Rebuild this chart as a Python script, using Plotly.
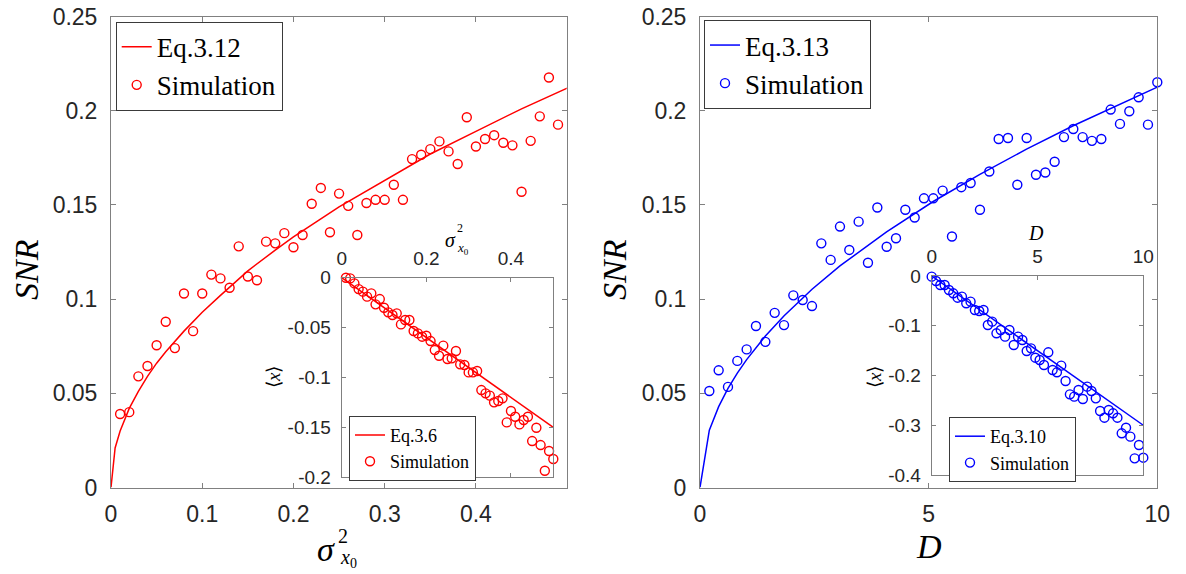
import plotly.graph_objects as go

# ---------------- data ----------------
# Left panel: SNR vs sigma_x0^2
sig_sim = [0.01, 0.02, 0.03, 0.04, 0.05, 0.06, 0.07, 0.08, 0.09, 0.10,
           0.11, 0.12, 0.13, 0.14, 0.15, 0.16, 0.17, 0.18, 0.19, 0.20,
           0.21, 0.22, 0.23, 0.24, 0.25, 0.26, 0.27, 0.28, 0.29, 0.30,
           0.31, 0.32, 0.33, 0.34, 0.35, 0.36, 0.37, 0.38, 0.39, 0.40,
           0.41, 0.42, 0.43, 0.44, 0.45, 0.46, 0.47, 0.48, 0.49, 0.50]
snr_sig_sim = [0.039, 0.040, 0.059, 0.0645, 0.0755, 0.088, 0.074, 0.103, 0.083, 0.103,
               0.113, 0.111, 0.106, 0.128, 0.112, 0.110, 0.1305, 0.1296, 0.135, 0.1275,
               0.134, 0.1506, 0.159, 0.1355, 0.156, 0.1495, 0.134, 0.151, 0.1527, 0.1527,
               0.1607, 0.1527, 0.1743, 0.1766, 0.1796, 0.1837, 0.1784, 0.1717, 0.1965, 0.181,
               0.185, 0.187, 0.183, 0.1816, 0.157, 0.184, 0.197, 0.2176, 0.1926, 0.203]
sig_eq = [0, 0.0045, 0.01, 0.02, 0.03, 0.04, 0.05, 0.06, 0.08, 0.10, 0.12, 0.15, 0.18, 0.2,
          0.25, 0.3, 0.35, 0.4, 0.45, 0.5]
snr_sig_eq = [0, 0.021, 0.030, 0.042, 0.051, 0.059, 0.066, 0.072, 0.083, 0.093, 0.102, 0.115,
              0.126, 0.133, 0.149, 0.163, 0.177, 0.189, 0.201, 0.212]

# Left inset: <x> vs sigma_x0^2
sig_in = sig_sim
x_sig_sim = [0.0, -0.0007, -0.0057, -0.0114, -0.014, -0.019, -0.0157, -0.0267, -0.0214, -0.0301,
             -0.0347, -0.0374, -0.0357, -0.0468, -0.0424, -0.0424, -0.0534, -0.0558, -0.0591, -0.0581,
             -0.0635, -0.0725, -0.0782, -0.0681, -0.0815, -0.0808, -0.0735, -0.0868, -0.0875, -0.0949,
             -0.0949, -0.0935, -0.1126, -0.1159, -0.1182, -0.1249, -0.1236, -0.1209, -0.145, -0.1336,
             -0.1393, -0.147, -0.1426, -0.1393, -0.1637, -0.1503, -0.1677, -0.1934, -0.1737, -0.1817]
sig_line = [0, 0.25, 0.5]
x_sig_eq = [0, -0.075, -0.15]

# Right panel: SNR vs D
D_sim = [0.204, 0.408, 0.612, 0.816, 1.020, 1.224, 1.429, 1.633, 1.837, 2.041,
         2.245, 2.449, 2.653, 2.857, 3.061, 3.265, 3.469, 3.673, 3.878, 4.082,
         4.286, 4.490, 4.694, 4.898, 5.102, 5.306, 5.510, 5.714, 5.918, 6.122,
         6.327, 6.531, 6.735, 6.939, 7.143, 7.347, 7.551, 7.755, 7.959, 8.163,
         8.367, 8.571, 8.776, 8.980, 9.184, 9.388, 9.592, 9.796, 10.0]
snr_D_sim = [0.0512, 0.0622, 0.0534, 0.0672, 0.0733, 0.0857, 0.0773, 0.0927, 0.0862, 0.102,
             0.0995, 0.0963, 0.1296, 0.1208, 0.1385, 0.1261, 0.1411, 0.1193, 0.1486, 0.1278,
             0.1323, 0.1474, 0.1433, 0.1535, 0.1535, 0.1576, 0.1332, 0.1594, 0.1616, 0.1474,
             0.1677, 0.185, 0.1855, 0.1607, 0.1855, 0.166, 0.1672, 0.1729, 0.186, 0.1903,
             0.186, 0.184, 0.185, 0.2006, 0.193, 0.1997, 0.2071, 0.1926, 0.2151]
D_eq = [0, 0.204, 0.408, 0.612, 0.816, 1.02, 1.43, 1.84, 2.45, 3.06, 4.08, 5.10, 6.12, 7.14,
        8.16, 9.18, 10.0]
snr_D_eq = [0, 0.0304, 0.0429, 0.0526, 0.0607, 0.0679, 0.0804, 0.0912, 0.1052, 0.1176, 0.1357,
            0.1518, 0.1662, 0.1796, 0.192, 0.2036, 0.2125]

# Right inset: <x> vs D
D_in = [0.0] + D_sim
x_D_sim = [-0.0013, -0.0101, -0.0181, -0.0181, -0.0281, -0.0348, -0.0436, -0.0415, -0.0549, -0.0516,
           -0.0683, -0.0704, -0.0683, -0.0985, -0.0918, -0.1152, -0.1085, -0.1219, -0.1085, -0.1387,
           -0.1219, -0.1286, -0.1508, -0.1454, -0.1642, -0.1688, -0.1789, -0.1534, -0.1889, -0.1936,
           -0.1802, -0.2111, -0.2379, -0.2425, -0.2291, -0.2472, -0.2224, -0.2312, -0.2459, -0.2714,
           -0.2848, -0.2693, -0.276, -0.2848, -0.3162, -0.3049, -0.3229, -0.3665, -0.3397, -0.3652]
D_line = [0, 5, 10]
x_D_eq = [0, -0.15, -0.30]

# tick labels
main_y_ticks = [0, 0.05, 0.1, 0.15, 0.2, 0.25]
main_y_text = ["0", "0.05", "0.1", "0.15", "0.2", "0.25"]
left_x_ticks = [0, 0.1, 0.2, 0.3, 0.4]
left_x_text = ["0", "0.1", "0.2", "0.3", "0.4"]
right_x_ticks = [0, 5, 10]
right_x_text = ["0", "5", "10"]
inl_x_ticks = [0, 0.2, 0.4]
inl_x_text = ["0", "0.2", "0.4"]
inl_y_ticks = [0, -0.05, -0.1, -0.15, -0.2]
inl_y_text = ["0", "-0.05", "-0.1", "-0.15", "-0.2"]
inr_y_ticks = [0, -0.1, -0.2, -0.3, -0.4]
inr_y_text = ["0", "-0.1", "-0.2", "-0.3", "-0.4"]

# ---------------- figure ----------------
W, H = 1186, 574
RED, BLUE = "#ff0000", "#0000ff"
SERIF = "Liberation Serif"
SANS = "Liberation Sans"
AX = "#808080"
TXT = "#262626"


def px(x):
    return x / W


def py(y):
    return 1 - y / H


fig = go.Figure()

# main left
fig.add_trace(go.Scatter(x=sig_eq, y=snr_sig_eq, mode="lines", name="Eq.3.12",
                         line=dict(color=RED, width=1.5), xaxis="x", yaxis="y", legend="legend"))
fig.add_trace(go.Scatter(x=sig_sim, y=snr_sig_sim, mode="markers", name="Simulation",
                         marker=dict(symbol="circle-open", size=9, color=RED, line=dict(width=1.4)),
                         cliponaxis=False, xaxis="x", yaxis="y", legend="legend"))
# main right
fig.add_trace(go.Scatter(x=D_eq, y=snr_D_eq, mode="lines", name="Eq.3.13",
                         line=dict(color=BLUE, width=1.5), xaxis="x2", yaxis="y2", legend="legend2"))
fig.add_trace(go.Scatter(x=D_sim, y=snr_D_sim, mode="markers", name="Simulation",
                         marker=dict(symbol="circle-open", size=9, color=BLUE, line=dict(width=1.4)),
                         cliponaxis=False, xaxis="x2", yaxis="y2", legend="legend2"))
# inset left
fig.add_trace(go.Scatter(x=sig_line, y=x_sig_eq, mode="lines", name="Eq.3.6",
                         line=dict(color=RED, width=1.5), xaxis="x3", yaxis="y3", legend="legend3"))
fig.add_trace(go.Scatter(x=sig_in, y=x_sig_sim, mode="markers", name="Simulation",
                         marker=dict(symbol="circle-open", size=9, color=RED, line=dict(width=1.4)),
                         cliponaxis=False, xaxis="x3", yaxis="y3", legend="legend3"))
# inset right
fig.add_trace(go.Scatter(x=D_line, y=x_D_eq, mode="lines", name="Eq.3.10",
                         line=dict(color=BLUE, width=1.5), xaxis="x4", yaxis="y4", legend="legend4"))
fig.add_trace(go.Scatter(x=D_in, y=x_D_sim, mode="markers", name="Simulation",
                         marker=dict(symbol="circle-open", size=9, color=BLUE, line=dict(width=1.4)),
                         cliponaxis=False, xaxis="x4", yaxis="y4", legend="legend4"))


def axstyle(size, tl, standoff, **kw):
    d = dict(showline=True, linecolor=AX, linewidth=1, mirror="ticks", ticks="inside",
             ticklen=tl, tickcolor=AX, tickwidth=1, showgrid=False, zeroline=False,
             tickfont=dict(family=SANS, size=size, color=TXT), ticklabelstandoff=standoff,
             tickmode="array", automargin=False)
    d.update(kw)
    return d


main_dom_y = [py(487.5), py(16.5)]
fig.update_layout(
    width=W, height=H, margin=dict(l=0, r=0, t=0, b=0, pad=0), autosize=False,
    paper_bgcolor="white", plot_bgcolor="white",
    xaxis=axstyle(23, 5, 6, domain=[px(111), px(566.7)], range=[0, 0.4995],
                  tickvals=left_x_ticks, ticktext=left_x_text, anchor="y"),
    yaxis=axstyle(23, 5, 8, domain=main_dom_y, range=[0, 0.25],
                  tickvals=main_y_ticks, ticktext=main_y_text, anchor="x"),
    xaxis2=axstyle(23, 5, 6, domain=[px(700), px(1157.3)], range=[0, 10],
                   tickvals=right_x_ticks, ticktext=right_x_text, anchor="y2"),
    yaxis2=axstyle(23, 5, 8, domain=main_dom_y, range=[0, 0.25],
                   tickvals=main_y_ticks, ticktext=main_y_text, anchor="x2"),
    xaxis3=axstyle(19, 4, 4, domain=[px(341.7), px(553.3)], range=[0, 0.5], side="top",
                   tickvals=inl_x_ticks, ticktext=inl_x_text, anchor="y3"),
    yaxis3=axstyle(19, 4, 6, domain=[py(477.3), py(277.7)], range=[-0.2, 0],
                   tickvals=inl_y_ticks, ticktext=inl_y_text, anchor="x3"),
    xaxis4=axstyle(19, 4, 4, domain=[px(931.7), px(1143.3)], range=[0, 10], side="top",
                   tickvals=right_x_ticks, ticktext=right_x_text, anchor="y4"),
    yaxis4=axstyle(19, 4, 6, domain=[py(475), py(276)], range=[-0.4, 0],
                   tickvals=inr_y_ticks, ticktext=inr_y_text, anchor="x4"),
    showlegend=True,
)


def leg(x, y, size):
    return dict(x=px(x), y=py(y), xanchor="left", yanchor="top", xref="paper", yref="paper",
                bgcolor="white", bordercolor="#3a3a3a", borderwidth=1,
                font=dict(family=SERIF, size=size, color="black"),
                itemwidth=30, tracegroupgap=0)


fig.update_layout(
    legend=leg(115.7, 21.7, 27),
    legend2=leg(704, 20, 27),
    legend3=leg(349, 415.7, 18),
    legend4=leg(949, 417, 18),
)

ann = []


def add_text(text, x, y, size, angle=0, color="black"):
    ann.append(dict(text=text, x=px(x), y=py(y), xref="paper", yref="paper",
                    xanchor="center", yanchor="middle", showarrow=False, textangle=angle,
                    font=dict(family=SERIF, size=size, color=color)))


# main axis titles
add_text("<i>SNR</i>", 26, 270, 34, angle=-90)
add_text("<i>SNR</i>", 614, 270, 34, angle=-90)
add_text("<i>σ</i>", 326, 549, 34)
add_text("2", 343, 536, 20)
add_text("<i>x</i><sub>0</sub>", 348, 558, 20)
add_text("<i>D</i>", 929, 546, 34)
# inset axis titles
add_text("<i>σ</i>", 450, 240, 20)
add_text("2", 460, 228, 12)
add_text("<i>x</i><sub>0</sub>", 463, 248, 13)
add_text("<i>D</i>", 1036, 233, 20)
add_text("⟨<i>x</i>⟩", 273, 377, 19, angle=-90)
add_text("⟨<i>x</i>⟩", 874, 377, 19, angle=-90)

fig.update_layout(annotations=ann)

fig.write_html("out.html")
